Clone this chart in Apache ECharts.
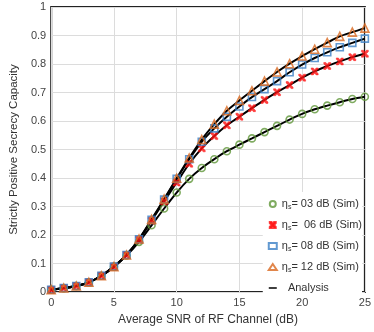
<!DOCTYPE html>
<html>
<head>
<meta charset="utf-8">
<script src="https://cdn.jsdelivr.net/npm/echarts@6/dist/echarts.min.js"></script>
<style>
  html, body { margin: 0; padding: 0; background: #fff; }
  #chart { width: 374px; height: 332px; }
</style>
</head>
<body>
<div id="chart"></div>
<script>
  // SNR values (dB)
  const snr = [0, 1, 2, 3, 4, 5, 6, 7, 8, 9, 10, 11, 12, 13, 14, 15, 16, 17, 18, 19, 20, 21, 22, 23, 24, 25]

  // secrecy capacity per eta_s
  const eta03 = [0.008, 0.013, 0.021, 0.034, 0.057, 0.089, 0.128, 0.176, 0.234, 0.293, 0.349, 0.397, 0.435, 0.466, 0.494, 0.517, 0.539, 0.561, 0.583, 0.605, 0.625, 0.641, 0.654, 0.666, 0.677, 0.685]
  const eta06 = [0.008, 0.014, 0.021, 0.034, 0.057, 0.089, 0.130, 0.183, 0.250, 0.318, 0.384, 0.450, 0.504, 0.547, 0.585, 0.615, 0.645, 0.674, 0.701, 0.726, 0.752, 0.774, 0.793, 0.809, 0.824, 0.836]
  const eta08 = [0.008, 0.014, 0.021, 0.034, 0.057, 0.089, 0.130, 0.185, 0.253, 0.324, 0.397, 0.466, 0.527, 0.574, 0.615, 0.651, 0.684, 0.712, 0.740, 0.771, 0.798, 0.821, 0.841, 0.859, 0.874, 0.889]
  const eta12 = [0.008, 0.014, 0.021, 0.034, 0.057, 0.089, 0.130, 0.186, 0.255, 0.326, 0.399, 0.470, 0.535, 0.589, 0.636, 0.672, 0.706, 0.740, 0.772, 0.801, 0.828, 0.852, 0.875, 0.897, 0.912, 0.926]

  const simLabels = [' 03', '  06', ' 08', ' 12']
  const simNames = simLabels.map(v => `η_s=${v} dB (Sim)`)

  const font = '"Liberation Sans", Arial, sans-serif'
  const cross = 'path://M0,0 L3,0 L5,2.5 L7,0 L10,0 L10,2 L7,5 L10,8 L10,10 L7,10 L5,7.5 L3,10 L0,10 L0,8 L3,5 L0,2 Z'
  const dash = 'path://M0,0 H10 V0 H0 Z M0,2.6 H10 V4.4 H0 Z M0,7 H10 V7 H0 Z'

  const sims = [
    { data: eta03, symbol: 'circle', size: 7, color: '#5f9638', fill: 'rgba(255,255,255,0)', bw: 1.6 },
    { data: eta06, symbol: cross, size: 7, color: '#ff1010', fill: '#ff1010', bw: 0.5 },
    { data: eta08, symbol: 'rect', size: 7, color: '#3b7fc6', fill: 'rgba(255,255,255,0)', bw: 1.6 },
    { data: eta12, symbol: 'triangle', size: 8, color: '#d9681e', fill: 'rgba(255,255,255,0)', bw: 1.6 },
  ]

  const pairs = arr => snr.map((x, i) => [x, arr[i]])

  const lineSeries = sims.map(s => ({
    name: 'Analysis', type: 'line', data: pairs(s.data),
    symbol: 'none', smooth: 0.3, z: 2,
    lineStyle: { color: '#000', width: 2 },
    itemStyle: { color: '#000' },
  }))

  const scatterSeries = sims.map((s, i) => ({
    name: simNames[i], type: 'scatter', data: pairs(s.data),
    symbol: s.symbol, symbolSize: s.size, z: 3,
    itemStyle: { color: s.fill, borderColor: s.color, borderWidth: s.bw },
  }))

  const chart = echarts.init(document.getElementById('chart'))
  chart.setOption({
    animation: false,
    textStyle: { fontFamily: font },
    grid: { left: 46, right: 8, top: 7, bottom: 40, show: true, borderColor: '#222', borderWidth: 2 },
    xAxis: {
      type: 'value', min: 0, max: 25, interval: 5,
      name: 'Average SNR of RF Channel (dB)', nameLocation: 'middle', nameGap: 22,
      nameTextStyle: { fontSize: 12, color: '#333', fontFamily: font },
      axisLine: { show: false }, axisTick: { show: false },
      axisLabel: { fontSize: 11, color: '#444', margin: 5 },
      splitLine: { lineStyle: { color: '#dcdcdc', width: 1 } },
    },
    yAxis: {
      type: 'value', min: 0, max: 1, interval: 0.1,
      name: 'Strictly Positive Secrecy Capacity', nameLocation: 'middle', nameGap: 27,
      nameTextStyle: { fontSize: 11.5, color: '#333', fontFamily: font },
      axisLine: { show: false }, axisTick: { show: false },
      axisLabel: { fontSize: 11, color: '#444', margin: 5 },
      splitLine: { lineStyle: { color: '#dcdcdc', width: 1 } },
    },
    legend: {
      orient: 'vertical', right: 12, top: 192,
      backgroundColor: '#fff', padding: [5, 0, 3, 5],
      itemWidth: 8, itemHeight: 6, itemGap: 7,
      data: [...simNames, { name: 'Analysis', icon: dash, itemStyle: { color: '#000', borderWidth: 0 } }],
      formatter: name => {
        if (name === 'Analysis') return '{t|  Analysis}'
        const m = name.match(/^η_s=(.*)$/)
        return `{e|η}{s|s}{t|=${m[1]}}`
      },
      textStyle: {
        fontFamily: font, color: '#333', fontSize: 11, lineHeight: 14,
        rich: {
          e: { fontSize: 11, color: '#333', fontFamily: font },
          s: { fontSize: 7, color: '#333', fontFamily: font, verticalAlign: 'bottom', padding: [5, 0, 0, 0] },
          t: { fontSize: 11, color: '#333', fontFamily: font },
        },
      },
    },
    series: [...lineSeries, ...scatterSeries],
  })
</script>
</body>
</html>
